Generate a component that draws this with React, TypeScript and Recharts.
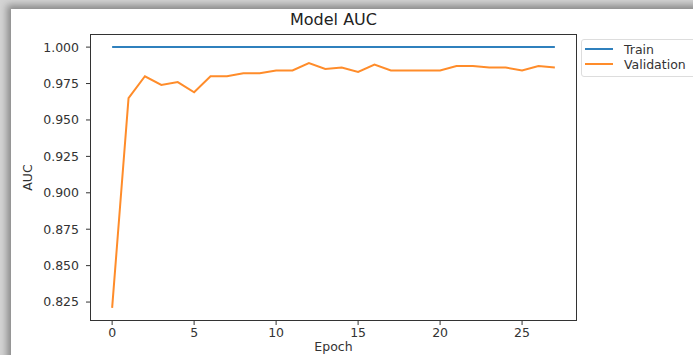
import { LineChart, Line, XAxis, YAxis, Label } from "recharts";

const epochs = [0, 1, 2, 3, 4, 5, 6, 7, 8, 9, 10, 11, 12, 13, 14, 15, 16, 17, 18, 19, 20, 21, 22, 23, 24, 25, 26, 27];
const trainAuc = [1, 1, 1, 1, 1, 1, 1, 1, 1, 1, 1, 1, 1, 1, 1, 1, 1, 1, 1, 1, 1, 1, 1, 1, 1, 1, 1, 1];
const valAuc = [
  0.821, 0.965, 0.98, 0.974, 0.976, 0.969, 0.98, 0.98, 0.982, 0.982, 0.984, 0.984, 0.989, 0.985,
  0.986, 0.983, 0.988, 0.984, 0.984, 0.984, 0.984, 0.987, 0.987, 0.986, 0.986, 0.984, 0.987, 0.986,
];
const xTicks = [0, 5, 10, 15, 20, 25];
const yTicks = [0.825, 0.85, 0.875, 0.9, 0.925, 0.95, 0.975, 1.0];

const font = "'DejaVu Sans', sans-serif";
const tickStyle = { fontSize: 12.5, fill: "#333", fontFamily: font };

export default function App() {
  const data = epochs.map((e, i) => ({ epoch: e, train: trainAuc[i], val: valAuc[i] }));
  return (
    <div style={{ position: "absolute", left: 0, top: 0, width: 693, height: 355, overflow: "hidden", background: "#d4d4d4" }}>
      <div
        style={{
          position: "absolute",
          left: 11,
          top: 9,
          width: 700,
          height: 360,
          background: "#fff",
          boxShadow: "-2px -2px 7px 2px rgba(0,0,0,0.35)",
        }}
      />
      <div style={{ position: "absolute", left: 0, top: 0 }}>
        <LineChart width={693} height={355} data={data} margin={{ top: 34, right: 116, left: 0, bottom: 0 }}>
          <XAxis
            dataKey="epoch"
            type="number"
            domain={[-1.35, 28.35]}
            ticks={xTicks}
            allowDataOverflow
            axisLine={false}
            tickLine={{ stroke: "#333" }}
            tickSize={4}
            tickMargin={3}
            tick={tickStyle}
            height={34}
          >
            <Label value="Epoch" position="center" dy={9} style={{ fontSize: 12.5, fill: "#333", fontFamily: font }} />
          </XAxis>
          <YAxis
            type="number"
            domain={[0.812, 1.009]}
            ticks={yTicks}
            allowDataOverflow
            axisLine={false}
            tickLine={{ stroke: "#333" }}
            tickSize={4}
            tickMargin={7}
            tickFormatter={(v: number) => v.toFixed(3)}
            tick={tickStyle}
            width={90}
          >
            <Label value="AUC" angle={-90} position="center" dx={-17} style={{ fontSize: 12.5, fill: "#333", fontFamily: font }} />
          </YAxis>
          <Line dataKey="train" stroke="#2f80bd" strokeWidth={2} dot={false} isAnimationActive={false} />
          <Line dataKey="val" stroke="#ff8c2a" strokeWidth={2} dot={false} isAnimationActive={false} />
        </LineChart>
      </div>
      <div
        style={{
          position: "absolute",
          left: 90,
          top: 34,
          width: 487,
          height: 287,
          border: "1px solid #333",
          boxSizing: "border-box",
          pointerEvents: "none",
        }}
      />
      <div
        style={{
          position: "absolute",
          left: 90,
          width: 487,
          top: 10,
          textAlign: "center",
          fontFamily: font,
          fontSize: 16,
          color: "#222",
        }}
      >
        Model AUC
      </div>
      <div
        style={{
          position: "absolute",
          left: 581,
          top: 39,
          width: 130,
          height: 36,
          border: "1px solid #ddd",
          borderRadius: 3,
          background: "#fff",
          fontFamily: font,
          fontSize: 12.5,
          color: "#333",
        }}
      >
        {[
          { name: "Train", color: "#2f80bd" },
          { name: "Validation", color: "#ff8c2a" },
        ].map((it, i) => (
          <div key={it.name} style={{ position: "absolute", left: 3, top: 1 + i * 15, height: 16, display: "flex", alignItems: "center" }}>
            <div style={{ width: 28, height: 2, background: it.color }} />
            <span style={{ marginLeft: 11 }}>{it.name}</span>
          </div>
        ))}
      </div>
    </div>
  );
}
